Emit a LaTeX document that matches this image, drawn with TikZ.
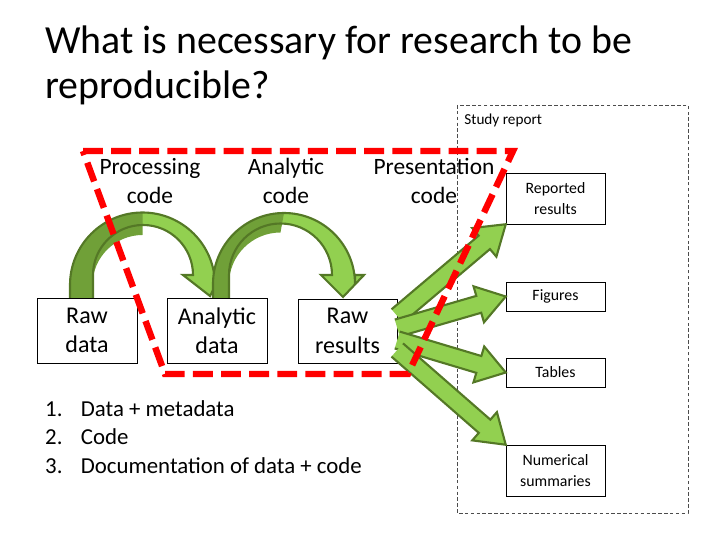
\documentclass[tikz,border=0pt]{standalone}
\usepackage{fontspec}
\setmainfont{Carlito}
\usetikzlibrary{calc}

\definecolor{leaf}{RGB}{146,208,80}
\definecolor{leafdark}{RGB}{112,160,56}
\definecolor{leafline}{RGB}{84,120,38}

\newcommand{\pxu}{*0.3mm}
\tikzset{
  box/.style={draw=black,fill=white,minimum width=99\pxu,inner sep=0pt,align=center},
  fat/.style={fill=leaf,draw=leafline,line width=1.8pt,line join=miter},
  fence/.style={draw=red,line width=5.5pt,dash pattern=on 17pt off 7pt},
}

\begin{document}
\begin{tikzpicture}[x=0.03cm,y=-0.03cm]
  \useasboundingbox (0,0) rectangle (720,540);

  % title
  \node[anchor=north west,align=left,inner sep=0pt,font=\fontsize{34}{38}\selectfont] (title) at (45,26)
    {What is necessary for research to be\\reproducible?};

  % study report frame
  \draw[densely dashed,gray!60!black] (457,105) rectangle (688,513);
  \node[anchor=west,fill=white,inner sep=1pt,font=\fontsize{13}{15}\selectfont] (report) at (463,120) {Study report};

  % code labels
  \begin{scope}[every node/.style={align=center,font=\fontsize{20}{24}\selectfont}]
    \node (proc) at (150,181) {Processing\\code};
    \node (anc) at (286,181) {Analytic\\code};
    \node (pres) at (434,181) {Presentation\\code};
  \end{scope}

  % arch: raw data -> analytic data
  \fill[leaf] (70,298) -- (70,285) arc[start angle=180,end angle=360,radius=72.5]
    -- (215,275) -- (221,275) -- (210,296) -- (183,275) -- (193,275)
    arc[start angle=0,end angle=-180,radius=50] -- (93,298) -- cycle;
  \fill[leafdark] (70,298) -- (70,285) arc[start angle=180,end angle=270,radius=72.5]
    -- (142.5,235) arc[start angle=270,end angle=180,radius=50] -- (93,298) -- cycle;
  \draw[fat,fill=none] (70,298) -- (70,285) arc[start angle=180,end angle=360,radius=72.5]
    -- (215,275) -- (221,275) -- (210,296) -- (183,275) -- (193,275)
    arc[start angle=0,end angle=-180,radius=50] -- (93,298);

  % arch: analytic data -> raw results
  \fill[leaf] (213,298) -- (213,284) arc[start angle=180,end angle=360,radius=71]
    -- (355,275) -- (364,275) -- (343,297) -- (321,275) -- (332,275)
    arc[start angle=0,end angle=-180,radius=51.5] -- (229,298) -- cycle;
  \fill[leafdark] (213,298) -- (213,284) arc[start angle=180,end angle=270,radius=71]
    -- (280.5,232.5) arc[start angle=270,end angle=180,radius=51.5] -- (229,298) -- cycle;
  \draw[fat,fill=none] (213,298) -- (213,284) arc[start angle=180,end angle=360,radius=71]
    -- (355,275) -- (364,275) -- (343,297) -- (321,275) -- (332,275)
    arc[start angle=0,end angle=-180,radius=51.5] -- (229,298);

  % data boxes
  \begin{scope}[every node/.append style={font=\fontsize{20.5}{25}\selectfont}]
    \node[box,minimum width=100\pxu,minimum height=65\pxu] (raw) at (87,330.5) {Raw\\data};
    \node[box,minimum width=100\pxu,minimum height=65\pxu] (ana) at (217,330.5) {Analytic\\data};
    \node[box,minimum width=99\pxu,minimum height=64\pxu] (res) at (347.5,331) {Raw\\results};
  \end{scope}

  % report boxes
  \begin{scope}[every node/.append style={font=\fontsize{13.5}{18}\selectfont}]
    \node[box,minimum height=51\pxu] (rep) at (555.5,198.5) {Reported\\results};
    \node[box,minimum height=29\pxu] (fig) at (555.5,296.5) {Figures};
    \node[box,minimum height=29\pxu] (tab) at (555.5,372.5) {Tables};
    \node[box,minimum height=51\pxu] (num) at (555.5,470.5) {Numerical\\summaries};
  \end{scope}

  % fat arrows from raw results
  \foreach \s/\t [count=\i] in {316/rep.south west,328/fig.west,340/tab.west,350/num.north west}{
    \coordinate (a\i) at (res.east |- 0,\s);
    \coordinate (h\i) at ($(\t)!24pt!(a\i)$);
    \draw[fat] ($(a\i)!7.5pt!90:(\t)$) -- ($(h\i)!7.5pt!-90:(a\i)$) -- ($(h\i)!16pt!-90:(a\i)$)
      -- (\t) -- ($(h\i)!16pt!90:(a\i)$) -- ($(h\i)!7.5pt!90:(a\i)$) -- ($(a\i)!7.5pt!-90:(\t)$);
  }

  % red fence round the code
  \draw[fence] (83,151) -- (513,151) -- (408,374) -- (165,374) -- cycle;

  % list
  \node[anchor=north west,align=left,inner sep=0pt,font=\fontsize{19.5}{24.5}\selectfont] (list) at (45,400)
    {1.\hspace{0.8em}Data + metadata\\2.\hspace{0.8em}Code\\3.\hspace{0.8em}Documentation of data + code};
\end{tikzpicture}
\end{document}
